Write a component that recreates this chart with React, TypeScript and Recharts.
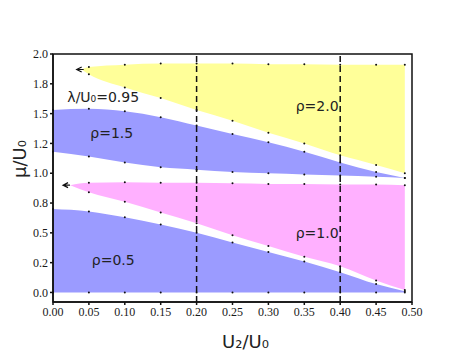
import { ComposedChart, Area, Scatter, XAxis, YAxis, ReferenceLine, ReferenceArea, ReferenceDot, Label } from "recharts";

// region boundaries (U2/U0 -> mu/U0)
const rho05X = [0, 0.05, 0.1, 0.15, 0.2, 0.25, 0.3, 0.35, 0.4, 0.45, 0.49];
const rho05Low = [0, 0, 0, 0, 0, 0, 0, 0, 0, 0, 0];
const rho05High = [0.7, 0.68, 0.63, 0.57, 0.5, 0.42, 0.34, 0.26, 0.17, 0.07, 0.01];

const rho10X = [0.024, 0.05, 0.1, 0.15, 0.2, 0.25, 0.3, 0.35, 0.4, 0.45, 0.49];
const rho10Low = [0.9, 0.84, 0.76, 0.67, 0.58, 0.48, 0.39, 0.3, 0.22, 0.1, 0.02];
const rho10High = [0.9, 0.92, 0.925, 0.92, 0.92, 0.915, 0.91, 0.91, 0.905, 0.905, 0.9];

const rho15X = [0, 0.05, 0.1, 0.15, 0.2, 0.25, 0.3, 0.35, 0.4, 0.45, 0.49];
const rho15Low = [1.18, 1.14, 1.09, 1.05, 1.03, 1.01, 1.0, 0.99, 0.98, 0.97, 0.96];
const rho15High = [1.53, 1.54, 1.52, 1.47, 1.4, 1.33, 1.26, 1.18, 1.09, 1.01, 0.96];

const rho20X = [0.04, 0.05, 0.1, 0.15, 0.2, 0.25, 0.3, 0.35, 0.4, 0.45, 0.49];
const rho20Low = [1.87, 1.83, 1.72, 1.63, 1.53, 1.44, 1.34, 1.25, 1.15, 1.07, 1.0];
const rho20High = [1.87, 1.89, 1.91, 1.92, 1.92, 1.92, 1.915, 1.915, 1.91, 1.91, 1.91];

const arrowTips = [
  { x: 0.014, y: 0.9 },
  { x: 0.033, y: 1.87 },
];

const dashedX = [0.2, 0.4];

const xTicks = [0, 0.05, 0.1, 0.15, 0.2, 0.25, 0.3, 0.35, 0.4, 0.45, 0.5];
const yTicks = [0, 0.25, 0.5, 0.75, 1.0, 1.25, 1.5, 1.75, 2.0];
const yTickLabels = ["0.0", "0.2", "0.5", "0.8", "1.0", "1.2", "1.5", "1.8", "2.0"];

const annotations = [
  { x: 0.02, y: 1.64, text: "λ/U₀=0.95" },
  { x: 0.052, y: 1.34, text: "ρ=1.5" },
  { x: 0.338, y: 1.56, text: "ρ=2.0" },
  { x: 0.338, y: 0.5, text: "ρ=1.0" },
  { x: 0.054, y: 0.27, text: "ρ=0.5" },
];

const COLORS = {
  blue: "#9b9bff",
  pink: "#ffb0ff",
  yellow: "#ffff99",
};

const makeRegion = (xs: number[], lo: number[], hi: number[]) =>
  xs.map((x, i) => ({ x, range: [lo[i], hi[i]] }));

const regions = [
  { key: "r05", data: makeRegion(rho05X, rho05Low, rho05High), color: COLORS.blue },
  { key: "r10", data: makeRegion(rho10X, rho10Low, rho10High), color: COLORS.pink },
  { key: "r15", data: makeRegion(rho15X, rho15Low, rho15High), color: COLORS.blue },
  { key: "r20", data: makeRegion(rho20X, rho20Low, rho20High), color: COLORS.yellow },
];

// small markers at the computed boundary points (cusp tips excluded)
const boundaryDots = regions.flatMap((r) =>
  r.data
    .filter((p, i) => i > 0 || p.x === 0)
    .flatMap((p) => [
      { x: p.x, y: p.range[0] },
      { x: p.x, y: p.range[1] },
    ])
);

const sans = "DejaVu Sans, sans-serif";
const serif = "Liberation Serif, Times New Roman, serif";

const Dot = (props: any) => <circle cx={props.cx} cy={props.cy} r={1} fill="#111" />;

const Arrow = (props: any) => {
  const { cx, cy } = props;
  return (
    <path
      d={`M${cx + 5},${cy - 2.5} L${cx},${cy} L${cx + 5},${cy + 2.5} M${cx},${cy} L${cx + 7},${cy}`}
      stroke="#111"
      strokeWidth={1.2}
      fill="none"
    />
  );
};

export default function App() {
  return (
    <div style={{ width: 463, height: 358, background: "#fff" }}>
      <style>{"body{margin:0}"}</style>
      <ComposedChart width={463} height={358} margin={{ top: 54, right: 51, bottom: 26, left: 8 }}>
        {regions.map((r) => (
          <Area
            key={r.key}
            data={r.data}
            dataKey="range"
            type="monotone"
            fill={r.color}
            fillOpacity={1}
            stroke="none"
            isAnimationActive={false}
            activeDot={false}
            dot={false}
          />
        ))}
        {dashedX.map((x) => (
          <ReferenceLine key={x} x={x} stroke="#111" strokeWidth={1.5} strokeDasharray="6 4" />
        ))}
        <Scatter data={boundaryDots} shape={Dot} isAnimationActive={false} />
        <Scatter data={arrowTips} shape={Arrow} isAnimationActive={false} />
        {annotations.map((a) => (
          <ReferenceDot
            key={a.text}
            x={a.x}
            y={a.y}
            r={0}
            fill="none"
            stroke="none"
            label={{ value: a.text, position: "right", offset: 0, fill: "#222", fontSize: 14, fontFamily: sans }}
          />
        ))}
        <ReferenceArea x1={0} x2={0.5} y1={-0.08} y2={2} fill="none" stroke="#111" strokeWidth={1.5} />
        <XAxis
          dataKey="x"
          type="number"
          domain={[0, 0.5]}
          ticks={xTicks}
          tickFormatter={(v: number) => v.toFixed(2)}
          height={30}
          tickSize={3}
          tickMargin={2}
          stroke="#111"
          strokeWidth={1.5}
          tick={{ fill: "#1a1a1a", fontSize: 12, fontFamily: serif }}
          interval={0}
        >
          <Label value="U₂/U₀" position="bottom" offset={3} dx={13} fill="#222" fontSize={18} fontFamily={sans} />
        </XAxis>
        <YAxis
          dataKey="y"
          type="number"
          domain={[-0.08, 2]}
          ticks={yTicks}
          tickFormatter={(v: number) => yTickLabels[yTicks.indexOf(v)]}
          width={45}
          tickSize={3}
          tickMargin={2}
          stroke="#111"
          strokeWidth={1.5}
          tick={{ fill: "#1a1a1a", fontSize: 12, fontFamily: serif }}
          interval={0}
          allowDataOverflow
        >
          <Label value="μ/U₀" angle={-90} position="insideLeft" offset={12} fill="#222" fontSize={18} fontFamily={sans} />
        </YAxis>
      </ComposedChart>
    </div>
  );
}
